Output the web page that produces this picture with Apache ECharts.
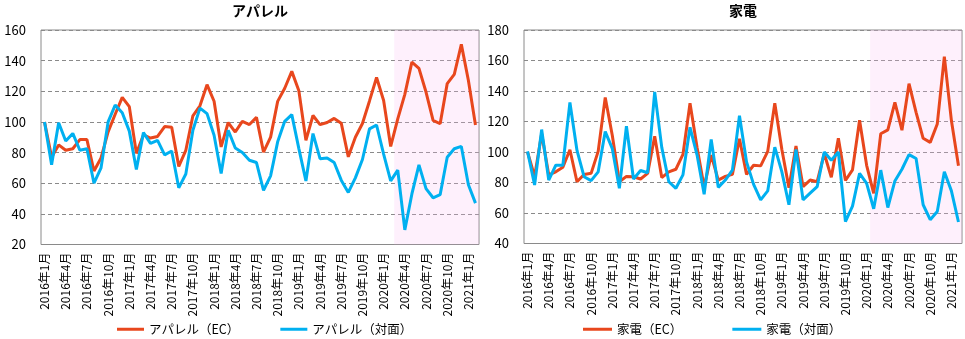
<!DOCTYPE html>
<html>
<head>
<meta charset="utf-8">
<script src="https://cdn.jsdelivr.net/npm/echarts@6/dist/echarts.min.js"></script>
<style>
html,body{margin:0;padding:0;background:#fff;}
#chart{width:965px;height:339px;}
</style>
</head>
<body>
<div id="chart"></div>
<script>
const months = [
 '2016年1月','2016年2月','2016年3月','2016年4月','2016年5月','2016年6月','2016年7月','2016年8月','2016年9月','2016年10月','2016年11月','2016年12月',
 '2017年1月','2017年2月','2017年3月','2017年4月','2017年5月','2017年6月','2017年7月','2017年8月','2017年9月','2017年10月','2017年11月','2017年12月',
 '2018年1月','2018年2月','2018年3月','2018年4月','2018年5月','2018年6月','2018年7月','2018年8月','2018年9月','2018年10月','2018年11月','2018年12月',
 '2019年1月','2019年2月','2019年3月','2019年4月','2019年5月','2019年6月','2019年7月','2019年8月','2019年9月','2019年10月','2019年11月','2019年12月',
 '2020年1月','2020年2月','2020年3月','2020年4月','2020年5月','2020年6月','2020年7月','2020年8月','2020年9月','2020年10月','2020年11月','2020年12月',
 '2021年1月','2021年2月'
];

const apparelEC = [
 100, 77, 85, 81.5, 82.5, 88.5, 88.5, 68, 76.5, 93.5, 105, 116, 110, 79.5, 91.5, 89.5, 90.5, 97, 96.5, 71, 81.5,
 104, 110.5, 124.3, 113.5, 83.7, 99.6, 93.4, 100.4, 98.3, 103, 80.3, 90.1, 113.4, 122, 133, 120.3, 88, 104.2, 98.2, 99.6,
 102.3, 99.2, 77.2, 90, 99, 113.7, 129, 114, 84, 102, 118, 139, 135, 119.5, 101, 98.8, 125, 131, 150.6, 127, 98
];
const apparelStore = [
 100, 72, 99.5, 87.5, 92.5, 81.5, 82.5, 60, 70, 100, 111, 106, 94, 69, 93, 86, 88, 78.5, 81, 57, 66,
 94.6, 109, 105.4, 91.3, 66.3, 94.6, 83, 80, 75, 73.5, 55.4, 64.8, 87, 100.4, 104.8, 82.6, 61.5, 92.4, 76, 76.5,
 73.5, 62, 54, 63.5, 75.5, 95.5, 98, 79, 61.5, 68.5, 29.5, 53, 72, 56.5, 50.5, 52.5, 77, 82.5, 84, 59, 47
];
const applianceEC = [
 100, 84, 112, 85, 87, 90, 101.5, 80.5, 85.3, 86, 100.4, 135.7, 110.8, 80.5, 84, 83.8, 82.3, 86, 110.3, 83.2, 87,
 88.7, 98.4, 132, 103, 77, 98, 81.6, 84, 85.3, 108.7, 85.3, 91.3, 90.9, 100.4, 132, 101.7, 76.6, 103.9, 77.3, 81.6,
 80.5, 99, 83.4, 109, 81.3, 88.3, 120.8, 91.3, 72.9, 112, 114.5, 132.5, 114.3, 144.8, 126, 109, 106.3, 118.4, 162.5, 120.6, 91
];
const applianceStore = [
 100.4, 78.4, 114.7, 81.6, 91.3, 91.3, 132.5, 101, 83.8, 81.2, 87, 113.4, 102.2, 76.2, 116.9, 82.3, 87.9, 86.4, 139.4, 103, 80.5,
 76.2, 85, 116.2, 98, 72.3, 108.2, 76.8, 81.6, 88.1, 123.8, 93.5, 78.8, 68.6, 74.5, 103.2, 87, 65.4, 101.7, 68.6, 73,
 77.3, 100, 94.6, 100, 54.3, 64.5, 86, 79.4, 62.8, 88.1, 63.6, 81, 88.7, 98.3, 95.7, 65.4, 55.6, 61, 87, 74.5, 54.1
];

const panelTitles = ['アパレル', '家電'];
const seriesNames = [['アパレル（EC）', 'アパレル（対面）'], ['家電（EC）', '家電（対面）']];
const shadeStart = ['2020年3月', '2020年2月'];
const yTicksApparel = [20, 40, 60, 80, 100, 120, 140, 160];
const yTicksAppliance = [40, 60, 80, 100, 120, 140, 160, 180];

const RED = '#E8471D';
const BLUE = '#00B0F0';
const FONT = '"Noto Sans CJK JP", "Noto Sans", sans-serif';

const grids = [
  {left: 41, top: 30, width: 438, height: 214.5},
  {left: 524, top: 30, width: 438, height: 213.5}
];
const yTicks = [yTicksApparel, yTicksAppliance];
const values = [[apparelEC, apparelStore], [applianceEC, applianceStore]];

const option = {
  animation: false,
  backgroundColor: '#fff',
  textStyle: {fontFamily: FONT},
  graphic: panelTitles.map((t, i) => ({
    type: 'text',
    x: grids[i].left + grids[i].width / 2,
    y: 4,
    style: {text: t, textAlign: 'center', font: 'bold 14px ' + FONT, fill: '#000'}
  })),
  grid: grids.map(g => Object.assign({show: true, borderColor: '#8a8a8a', borderWidth: 1, backgroundColor: 'transparent'}, g)),
  legend: [
    {data: seriesNames[0], left: 117, top: 323, padding: 0, itemGap: 41, itemWidth: 27, itemHeight: 3, icon: 'rect',
     textStyle: {fontSize: 12.5, color: '#000', fontFamily: FONT}},
    {data: seriesNames[1], left: 583, top: 323, padding: 0, itemGap: 50, itemWidth: 29, itemHeight: 3, icon: 'rect',
     textStyle: {fontSize: 12.5, color: '#000', fontFamily: FONT}}
  ],
  xAxis: [0, 1].map(i => ({
    type: 'category', gridIndex: i, data: months, boundaryGap: true,
    axisLine: {show: false}, axisTick: {show: false},
    axisLabel: {interval: 2, rotate: 90, margin: 8, fontSize: 12, color: '#000', fontFamily: FONT}
  })).concat([0, 1].map(i => ({
    type: 'value', gridIndex: i, min: 0, max: months.length, show: false
  }))),
  yAxis: [0, 1].map(i => ({
    type: 'value', gridIndex: i,
    min: yTicks[i][0], max: yTicks[i][yTicks[i].length - 1], interval: yTicks[i][1] - yTicks[i][0],
    axisLine: {show: false}, axisTick: {show: false},
    axisLabel: {margin: 15, fontSize: 13, color: '#000', fontFamily: FONT},
    splitLine: {show: true, lineStyle: {type: [4, 3], color: '#8a8a8a', width: 1}}
  })),
  series: []
};

[0, 1].forEach(p => {
  [0, 1].forEach(s => {
    option.series.push({
      type: 'line', name: seriesNames[p][s], xAxisIndex: p, yAxisIndex: p,
      data: values[p][s], showSymbol: false, symbol: 'none', z: 2 + s,
      lineStyle: {width: 3, color: s === 0 ? RED : BLUE},
      itemStyle: {color: s === 0 ? RED : BLUE}
    });
  });
  option.series.push({
    type: 'line', name: 'shade' + p, xAxisIndex: 2 + p, yAxisIndex: p, data: [], z: 10,
    markArea: {
      silent: true,
      itemStyle: {color: 'rgba(250,185,240,0.22)'},
      data: [[{xAxis: months.indexOf(shadeStart[p])}, {xAxis: months.length}]]
    }
  });
});

const chart = echarts.init(document.getElementById('chart'), null, {renderer: 'canvas'});
chart.setOption(option);
</script>
</body>
</html>
